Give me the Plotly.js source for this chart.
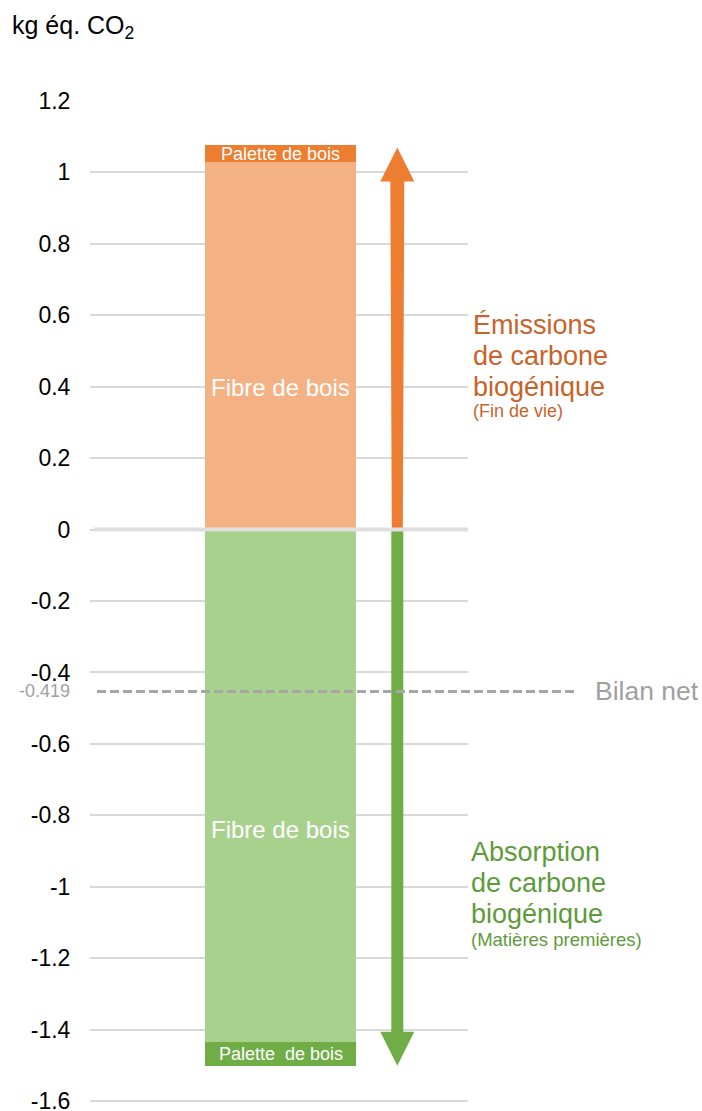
<!DOCTYPE html>
<html>
<head>
<meta charset="utf-8">
<script src="https://cdn.plot.ly/plotly-3.0.1.min.js"></script>
<style>
  html, body { margin: 0; padding: 0; background: #fff; }
  #chart { width: 702px; height: 1111px; }
</style>
</head>
<body>
<div id="chart"></div>
<script>
// ---------- data ----------
const segmentNames = ['Fibre de bois', 'Palette de bois', 'Fibre de bois', 'Palette  de bois'];
const emissionValues = [1.028, 0.050];      // Fibre de bois, Palette de bois (fin de vie)
const absorptionValues = [-1.434, -0.067];  // Fibre de bois, Palette de bois (matières premières)
const netLineLevel = [-0.453];              // dashed line as drawn
const netLabel = ['-0.419'];
const tickVals = [1.2, 1, 0.8, 0.6, 0.4, 0.2, 0, -0.2, -0.4, -0.6, -0.8, -1, -1.2, -1.4, -1.6];
const tickText = ['1.2', '1', '0.8', '0.6', '0.4', '0.2', '0', '-0.2', '-0.4', '-0.6', '-0.8', '-1', '-1.2', '-1.4', '-1.6'];
const emissionText = ['Émissions', 'de carbone', 'biogénique'];
const emissionSub = ['(Fin de vie)'];
const absorptionText = ['Absorption', 'de carbone', 'biogénique'];
const absorptionSub = ['(Matières premières)'];
const axisTitle = ['kg éq. CO<sub>2</sub>'];
const netText = ['Bilan net'];

// ---------- style / layout constants ----------
const FONT = '"Liberation Sans", Arial, sans-serif';
const BAR_X = 0.504, BAR_W = 0.40;
const ARROW_X = 0.813;
const PX_X = 1 / 378;      // x axis units per pixel
const PX_Y = 2.8 / 1000;   // y axis units per pixel
const C = {
  fibrePos: '#F4B183', palettePos: '#ED7D31',
  fibreNeg: '#A9D18E', paletteNeg: '#70AD47',
  emisText: '#C8632A', absText: '#5E9B3C', grey: '#A0A0A0'
};

const sum = a => a.reduce((s, v) => s + v, 0);
const posTotal = sum(emissionValues);
const negTotal = sum(absorptionValues);

const traces = [
  { type: 'bar', x: [BAR_X], y: [emissionValues[0]], width: BAR_W, marker: { color: C.fibrePos }, name: segmentNames[0], hoverinfo: 'y+name' },
  { type: 'bar', x: [BAR_X], y: [emissionValues[1]], width: BAR_W, marker: { color: C.palettePos }, name: segmentNames[1], hoverinfo: 'y+name' },
  { type: 'bar', x: [BAR_X], y: [absorptionValues[0]], width: BAR_W, marker: { color: C.fibreNeg }, name: segmentNames[2], hoverinfo: 'y+name' },
  { type: 'bar', x: [BAR_X], y: [absorptionValues[1]], width: BAR_W, marker: { color: C.paletteNeg }, name: segmentNames[3], hoverinfo: 'y+name' }
];

// arrows
const headH = 34 * PX_Y, headHW = 17 * PX_X;
function arrowPath(tip, baseHW, topHW) {
  const dir = tip > 0 ? 1 : -1;
  const hb = tip - dir * headH;
  const a = ARROW_X;
  return `M ${a - baseHW},0 L ${a - topHW},${hb} L ${a - headHW},${hb} L ${a},${tip} ` +
         `L ${a + headHW},${hb} L ${a + topHW},${hb} L ${a + baseHW},0 Z`;
}

const shapes = [
  { type: 'path', xref: 'x', yref: 'y', path: arrowPath(posTotal - 3 * PX_Y, 5.5 * PX_X, 7 * PX_X), fillcolor: C.palettePos, line: { width: 0 }, layer: 'above' },
  { type: 'path', xref: 'x', yref: 'y', path: arrowPath(negTotal, 6 * PX_X, 6 * PX_X), fillcolor: C.paletteNeg, line: { width: 0 }, layer: 'above' },
  { type: 'line', xref: 'paper', yref: 'y', x0: 0.01, x1: 1.0, y0: 0, y1: 0, line: { color: '#DFDFDF', width: 4 }, layer: 'above' },
  { type: 'line', xref: 'paper', yref: 'y', x0: 0.0185, x1: 1.283, y0: netLineLevel[0], y1: netLineLevel[0], line: { color: '#A6A6A6', width: 3, dash: '9px,4px' }, layer: 'above' }
];

const annotations = [];
function ann(text, x, y, size, color, xanchor, xref) {
  annotations.push({ text, x, y, xref: xref || 'paper', yref: 'y', xanchor: xanchor || 'left', yanchor: 'middle',
    showarrow: false, font: { family: FONT, size, color } });
}
// in-bar labels
ann(segmentNames[0], BAR_X, 0.399, 24, '#FFFFFF', 'center', 'x');
ann(segmentNames[1], BAR_X, posTotal - emissionValues[1] / 2, 18, '#FFFFFF', 'center', 'x');
ann(segmentNames[2], BAR_X, -0.841, 24, '#FFFFFF', 'center', 'x');
ann(segmentNames[3], BAR_X, negTotal - absorptionValues[1] / 2, 18, '#FFFFFF', 'center', 'x');
// side texts
const lineStep = 31 * PX_Y;
emissionText.forEach((t, i) => ann(t, 1.008, 0.573 - i * lineStep, 27, C.emisText));
ann(emissionSub[0], 1.008, 0.332, 18, C.emisText);
absorptionText.forEach((t, i) => ann(t, 1.003, -0.903 - i * lineStep, 27, C.absText));
ann(absorptionSub[0], 1.003, -1.149, 18.5, C.absText);
// net labels
ann(netLabel[0], -0.048, netLineLevel[0], 18, C.grey, 'right');
ann(netText[0], 1.33, netLineLevel[0], 26.5, C.grey, 'left');

const layout = {
  width: 702, height: 1111,
  margin: { l: 90, r: 234, t: 101, b: 6 },
  paper_bgcolor: '#FFFFFF', plot_bgcolor: '#FFFFFF',
  barmode: 'relative', bargap: 0,
  showlegend: false,
  font: { family: FONT, color: '#000000' },
  title: { text: axisTitle[0], x: 12 / 702, xref: 'container', xanchor: 'left', y: 1 - 25 / 1111, yref: 'container', yanchor: 'middle',
    font: { family: FONT, size: 25, color: '#000000' } },
  xaxis: { range: [0, 1], showgrid: false, zeroline: false, showticklabels: false, showline: false, fixedrange: true },
  yaxis: { range: [-1.611, 1.2], tickvals: tickVals, ticktext: tickText, showgrid: true, gridcolor: '#D9D9D9', gridwidth: 2,
    zeroline: false, showline: false, ticks: 'outside', ticklen: 14, tickcolor: 'rgba(0,0,0,0)', ticklabeloverflow: 'allow',
    tickfont: { family: FONT, size: 23, color: '#000000' }, fixedrange: true },
  shapes, annotations
};

Plotly.newPlot('chart', traces, layout, { displayModeBar: false, staticPlot: true });
</script>
</body>
</html>
